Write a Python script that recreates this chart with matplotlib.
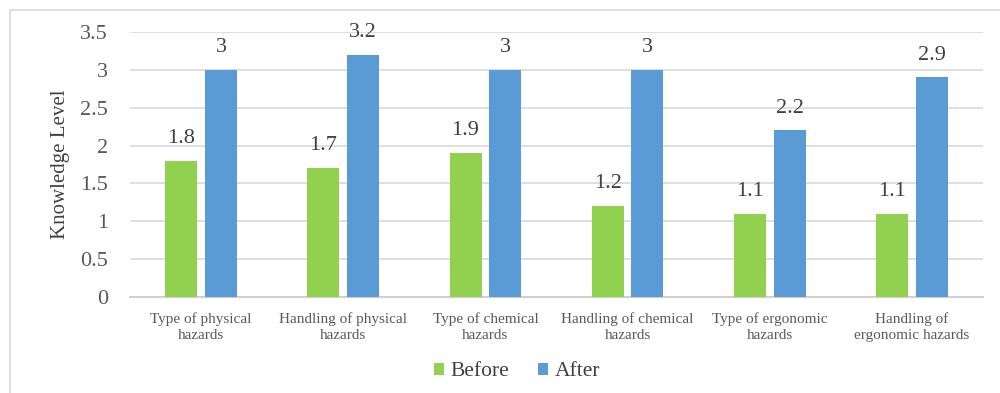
import numpy as np
import matplotlib.pyplot as plt
from matplotlib.patches import Rectangle

categories = ['Type of physical\nhazards', 'Handling of physical\nhazards',
              'Type of chemical\nhazards', 'Handling of chemical\nhazards',
              'Type of ergonomic\nhazards', 'Handling of\nergonomic hazards']
before = [1.8, 1.7, 1.9, 1.2, 1.1, 1.1]
after = [3, 3.2, 3, 3, 2.2, 2.9]

plt.rcParams['font.family'] = ['Liberation Serif', 'DejaVu Serif']

green = '#92D050'
blue = '#5B9BD5'
txt = '#404040'

fig = plt.figure(figsize=(10, 3.93), dpi=100)
ax = fig.add_axes([0.130, 1 - 297 / 393, 0.853, (297 - 32) / 393])

# light frame around the chart area
fig.patches.append(Rectangle((10 / 1000, -0.1), 1.1, 1 - 10 / 393 + 0.1,
                             transform=fig.transFigure, fill=False,
                             edgecolor='#D9D9D9', linewidth=1.2))

x = np.arange(len(categories))
w = 0.225
off = 0.14
b1 = ax.bar(x - off, before, w, color=green, label='Before', zorder=3)
b2 = ax.bar(x + off, after, w, color=blue, label='After', zorder=3)

for bars, vals in ((b1, before), (b2, after)):
    for rect, v in zip(bars, vals):
        ax.text(rect.get_x() + rect.get_width() / 2, v + 0.17, f'{v:g}',
                ha='center', va='bottom', fontsize=16, color=txt)

ax.set_xlim(-0.5, len(categories) - 0.5)
ax.set_ylim(0, 3.5)
ax.set_yticks(np.arange(0, 3.51, 0.5))
ax.set_yticklabels(['0', '0.5', '1', '1.5', '2', '2.5', '3', '3.5'])
ax.set_xticks(x)
ax.set_xticklabels(categories, fontsize=11, color='#595959', linespacing=1.25)
ax.tick_params(axis='y', labelsize=16, labelcolor='#595959', length=0, pad=16)
ax.tick_params(axis='x', length=0, pad=11)
ax.grid(axis='y', color='#D9D9D9', linewidth=1.2, zorder=0)
for s in ('top', 'right', 'left'):
    ax.spines[s].set_visible(False)
ax.spines['bottom'].set_color('#D0D0D0')
ax.spines['bottom'].set_linewidth(1.5)
ax.set_ylabel('Knowledge Level', fontsize=15, color=txt)
ax.yaxis.set_label_coords(-0.070, 0.5)

fig.legend(handles=[b1, b2], loc='center', bbox_to_anchor=(0.517, 1 - 372 / 393),
           ncol=2, frameon=False, fontsize=15.5, handlelength=0.5,
           handleheight=0.5, handletextpad=0.3, columnspacing=1.3,
           labelcolor=txt)

fig.savefig('out.png', dpi=100)
